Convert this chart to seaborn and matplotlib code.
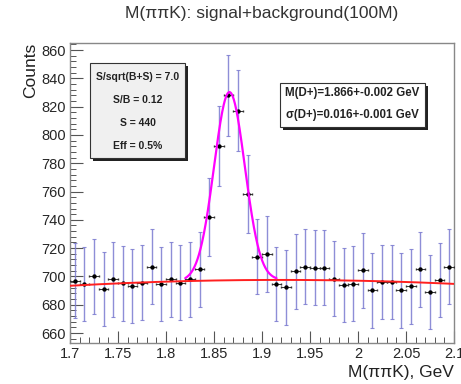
import numpy as np
import pandas as pd
import seaborn as sns
import matplotlib.pyplot as plt
from matplotlib.ticker import MultipleLocator
from matplotlib.patches import Rectangle

# bin centres and counts
mass = np.round(np.arange(1.705, 2.1, 0.01), 3)
counts = [697, 694.6, 700.2, 691.3, 697.9, 695, 693.2, 695.5, 706.8, 694.6,
          697.9, 695.5, 698, 705, 742, 792, 828, 817, 758, 714,
          716, 694.6, 692.2, 703.7, 706.8, 706.3, 706.3, 698.3, 693.9, 694.8,
          704.2, 690.1, 696, 696, 690.1, 692.9, 704.9, 689.2, 697.4, 706.8]

# fit results shown on the plot
peak_mean = 1.866
peak_sigma = 0.016
peak_height = 133
bkg_coef = [697.5, 3.3, -86.0]   # quadratic in (m - 1.9): c0 + c1*d + c2*d^2
signal_range = (1.82, 1.915)

stats_lines = ["S/sqrt(B+S) = 7.0", "S/B = 0.12", "S = 440", "Eff = 0.5%"]
fit_lines = ["M(D+)=1.866+-0.002 GeV", "σ(D+)=0.016+-0.001 GeV"]

sns.set_style("white")
plt.rcParams['font.family'] = ['Liberation Sans', 'DejaVu Sans']

df = pd.DataFrame({'mass': mass, 'counts': counts})
df['err'] = np.sqrt(df['counts'])


def background(m):
    d = m - 1.9
    return bkg_coef[0] + bkg_coef[1] * d + bkg_coef[2] * d ** 2


m_all = np.linspace(1.7, 2.1, 400)
bkg_df = pd.DataFrame({'m': m_all, 'y': background(m_all)})
m_sig = np.linspace(signal_range[0], signal_range[1], 300)
sig_df = pd.DataFrame({'m': m_sig,
                       'y': background(m_sig) + peak_height * np.exp(-0.5 * ((m_sig - peak_mean) / peak_sigma) ** 2)})

fig = plt.figure(figsize=(4.61, 3.84), dpi=100)
ax = fig.add_axes([0.152, 0.107, 0.833, 0.781])

# error bars: vertical in lavender, horizontal (bin width) in black
ax.errorbar(df['mass'], df['counts'], yerr=df['err'], fmt='none',
            ecolor='#7a7ad0', elinewidth=1.0, capsize=1.5, capthick=0.8, alpha=0.85, zorder=2)
ax.errorbar(df['mass'], df['counts'], xerr=0.005, fmt='none',
            ecolor='#333333', elinewidth=0.7, capsize=1, zorder=3)
sns.scatterplot(data=df, x='mass', y='counts', color='black', s=10, marker='o',
                edgecolor='black', linewidth=0, zorder=4, ax=ax)

sns.lineplot(data=bkg_df, x='m', y='y', color='#ff2020', linewidth=1.4, ax=ax, zorder=5)
sns.lineplot(data=sig_df, x='m', y='y', color='#ff00ff', linewidth=1.6, ax=ax, zorder=6)

ax.set_xlim(1.7, 2.1)
ax.set_ylim(653, 865)
ax.xaxis.set_minor_locator(MultipleLocator(0.01))
ax.yaxis.set_major_locator(MultipleLocator(20))
ax.yaxis.set_minor_locator(MultipleLocator(4))
ax.set_xticks(np.arange(1.7, 2.101, 0.05))
ax.set_xticklabels(['1.7', '1.75', '1.8', '1.85', '1.9', '1.95', '2', '2.05', '2.1'])
ax.tick_params(axis='both', which='major', direction='in', length=9, width=0.8,
               color='#555555', labelsize=10.5, pad=3, top=False, right=False)
ax.tick_params(axis='both', which='minor', direction='in', length=4.5, width=0.7,
               color='#555555', top=False, right=False)
ax.tick_params(axis='x', which='both', bottom=True)
ax.tick_params(axis='y', which='both', left=True)
for s in ax.spines.values():
    s.set_color('#888888')
    s.set_linewidth(1.0)

ax.set_xlabel('M(ππK), GeV', fontsize=12.5, loc='right', labelpad=3, color='#222222')
ax.set_ylabel('Counts', fontsize=12.5, loc='top', labelpad=2, color='#222222')
ax.set_title('M(ππK): signal+background(100M)', fontsize=12.5, pad=18, color='#333333')


def shadow_box(x0, y0, x1, y1, face):
    dx, dy = 3 / 384, 3 / 300
    ax.add_patch(Rectangle((x0 + dx, y0 - dy), x1 - x0, y1 - y0, transform=ax.transAxes,
                           facecolor='#222222', edgecolor='none', zorder=7))
    ax.add_patch(Rectangle((x0, y0), x1 - x0, y1 - y0, transform=ax.transAxes,
                           facecolor=face, edgecolor='#333333', linewidth=0.8, zorder=8))


# statistics box
shadow_box(0.052, 0.617, 0.300, 0.933, '#f0f0f0')
for txt, yy in zip(stats_lines, [0.888, 0.81, 0.734, 0.657]):
    ax.text(0.176, yy, txt, transform=ax.transAxes, ha='center', va='center',
            fontsize=7.5, fontweight='bold', color='#222222', zorder=9)

# fit result box
shadow_box(0.547, 0.72, 0.924, 0.867, 'white')
for txt, yy in zip(fit_lines, [0.833, 0.76]):
    ax.text(0.7355, yy, txt, transform=ax.transAxes, ha='center', va='center',
            fontsize=8.3, fontweight='bold', color='#222222', zorder=9)

fig.savefig('out.png', dpi=100)
